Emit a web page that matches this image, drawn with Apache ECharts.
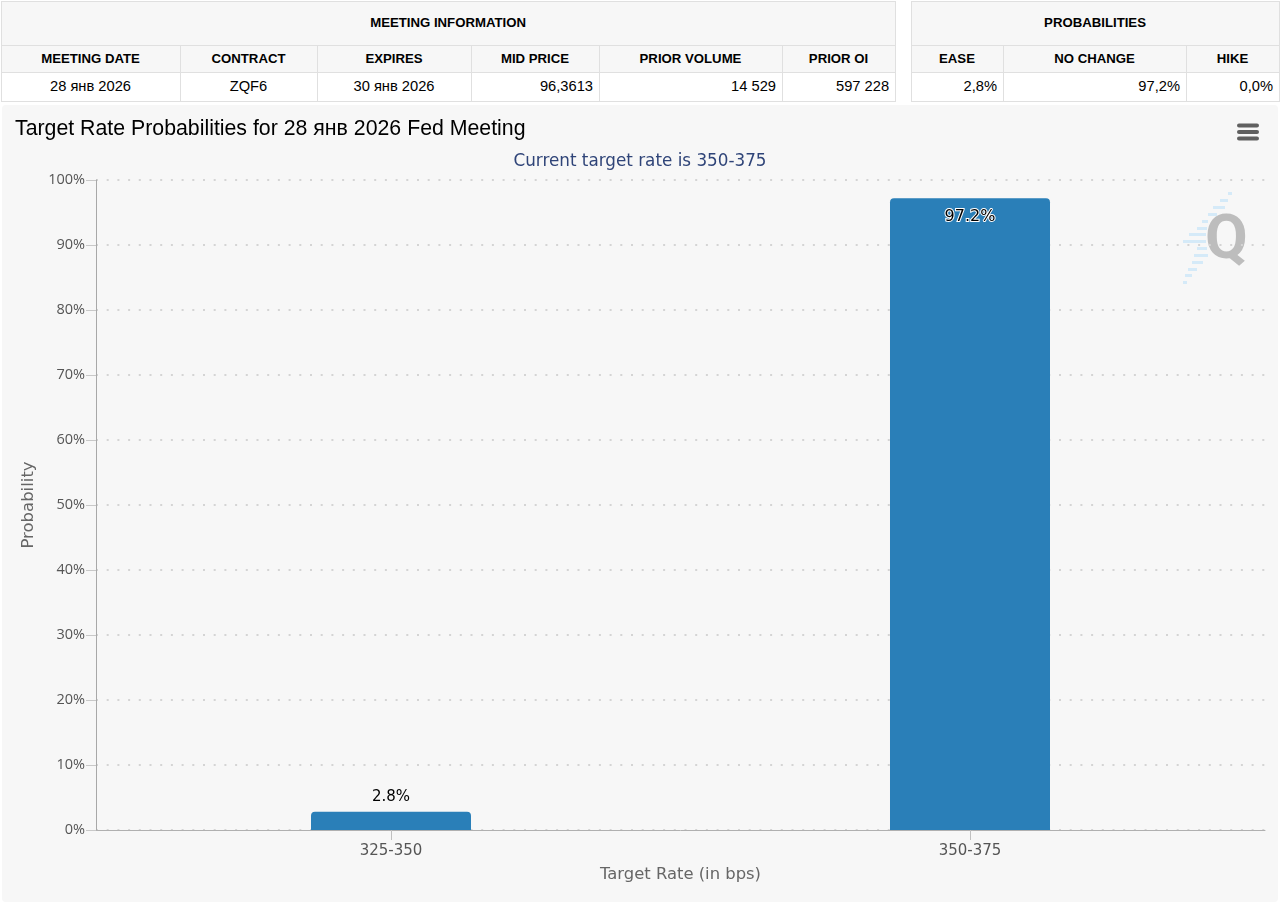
<!DOCTYPE html>
<html>
<head>
<meta charset="utf-8">
<script src="https://cdn.jsdelivr.net/npm/echarts@6/dist/echarts.min.js"></script>
<style>
  html, body { margin: 0; padding: 0; background: #fff; }
  body { position: relative; width: 1280px; height: 911px; overflow: hidden; font-family: "Liberation Sans", Arial, sans-serif; }
  table { position: absolute; top: 1px; border-collapse: collapse; table-layout: fixed; color: #000; }
  td, th { border: 1px solid #e0e0e0; padding: 0 6px 2px 5px; box-sizing: border-box; }
  th { background: #f7f7f7; font-weight: bold; font-size: 13.2px; text-align: center; }
  td { background: #fff; text-align: right; font-size: 14.7px; }
  td.c { text-align: center; }
  tr.r1 { height: 44px; } tr.r2 { height: 27px; } tr.r3 { height: 29px; }
  #chart { position: absolute; left: 2px; top: 105px; width: 1276px; height: 797px; border-radius: 4px; overflow: hidden; }
</style>
</head>
<body>
<table id="meeting" style="left:1px;width:894px"></table>
<table id="probs" style="left:911px;width:368px"></table>
<div id="chart"></div>
<script>
const meetingHead = ["MEETING DATE", "CONTRACT", "EXPIRES", "MID PRICE", "PRIOR VOLUME", "PRIOR OI"];
const meetingRow = ["28 янв 2026", "ZQF6", "30 янв 2026", "96,3613", "14 529", "597 228"];
const meetingCols = [179, 137, 154, 128, 183, 113];
const probHead = ["EASE", "NO CHANGE", "HIKE"];
const probRow = ["2,8%", "97,2%", "0,0%"];
const probCols = [92, 183, 93];

const rates = ["325-350", "350-375"];
const probabilities = [2.8, 97.2];

function fillTable(id, title, head, row, cols, centered) {
    let html = "<colgroup>" + cols.map(w => `<col style="width:${w}px">`).join("") + "</colgroup>";
    html += `<tr class="r1"><th colspan="${cols.length}">${title}</th></tr>`;
    html += '<tr class="r2">' + head.map(h => `<th>${h}</th>`).join("") + "</tr>";
    html += '<tr class="r3">' + row.map((v, i) => `<td class="${i < centered ? "c" : ""}">${v}</td>`).join("") + "</tr>";
    document.getElementById(id).innerHTML = html;
}
fillTable("meeting", "MEETING INFORMATION", meetingHead, meetingRow, meetingCols, 3);
fillTable("probs", "PROBABILITIES", probHead, probRow, probCols, 0);

const labelFont = '"DejaVu Sans", sans-serif';
const chart = echarts.init(document.getElementById("chart"), null, { renderer: "canvas" });

// watermark streaks behind the Q, page coords: x, y, width
const streaks = [
    [1228, 193, 4], [1220, 200, 8], [1213, 207, 12], [1208, 214, 9], [1202, 221, 6],
    [1197, 228, 10], [1189, 234, 17], [1183, 241, 23], [1197, 248, 10], [1194, 255, 14],
    [1192, 262, 11], [1188, 269, 9], [1185, 275, 7], [1183, 282, 4]
].map(s => ({
    type: "rect",
    shape: { x: s[0] - 2, y: s[1] - 106, width: s[2], height: 3 },
    style: { fill: "#d5eaf8" },
    silent: true
}));

const menuBars = [123.5, 130, 136.5].map(y => ({
    type: "rect",
    shape: { x: 1235, y: y - 105, width: 22, height: 4, r: 2 },
    style: { fill: "#606060" }
}));

chart.setOption({
    backgroundColor: "#f7f7f7",
    animation: false,
    title: [
        {
            text: "Target Rate Probabilities for 28 янв 2026 Fed Meeting",
            left: 8,
            top: 9,
            textStyle: { fontFamily: '"Liberation Sans", sans-serif', fontSize: 21.3, fontWeight: "normal", color: "#000" }
        },
        {
            text: "Current target rate is 350-375",
            left: "center",
            top: 43,
            textStyle: { fontFamily: labelFont, fontSize: 16.8, fontWeight: "normal", color: "#2f4478" }
        }
    ],
    graphic: [
        ...streaks,
        {
            type: "text",
            style: { text: "Q", x: 1203, y: 106, fontFamily: "Roboto, sans-serif", fontWeight: "bold", fontSize: 62, fill: "#bdbdbd" },
            silent: true
        },
        ...menuBars
    ],
    grid: { left: 94, right: 13, top: 75, bottom: 72 },
    xAxis: {
        type: "value",
        // the two bars don't sit on even bands of the axis
        min: -0.5095,
        max: 1.5095,
        name: "Target Rate (in bps)",
        nameLocation: "middle",
        nameGap: 37,
        nameTextStyle: { fontFamily: labelFont, fontSize: 16.4, color: "#666" },
        splitLine: { show: false },
        axisLine: { lineStyle: { color: "#b0b0b0", width: 1 } },
        axisTick: { show: true, length: 10, customValues: [0, 1], lineStyle: { color: "#c0c0c0" } },
        axisLabel: {
            customValues: [0, 1],
            formatter: v => rates[v],
            fontFamily: labelFont,
            fontSize: 15,
            color: "#555",
            margin: 14
        }
    },
    yAxis: {
        type: "value",
        min: 0,
        max: 100,
        interval: 10,
        name: "Probability",
        nameLocation: "middle",
        nameGap: 56,
        nameTextStyle: { fontFamily: labelFont, fontSize: 16.5, color: "#666" },
        axisLine: { show: true, onZero: false, lineStyle: { color: "#a8a8a8", width: 1 } },
        axisTick: { show: true, length: 10, lineStyle: { color: "#c8c8c8" } },
        axisLabel: {
            formatter: "{value}%",
            fontFamily: '"Open Sans", sans-serif',
            fontSize: 14.5,
            color: "#555",
            margin: 11
        },
        splitLine: { lineStyle: { color: "#d4d4d4", width: 2, type: [2, 8.7] } }
    },
    series: [
        {
            type: "bar",
            barWidth: 160,
            itemStyle: { color: "#2a7fb8", borderRadius: [4, 4, 0, 0] },
            data: probabilities.map((p, i) => ({
                value: [i, p],
                label: p > 50
                    ? { show: true, position: "insideTop", distance: 11, fontSize: 16, color: "#000", textBorderColor: "#fff", textBorderWidth: 2 }
                    : { show: true, position: "top", distance: 7, color: "#000" }
            })),
            label: {
                fontFamily: labelFont,
                fontSize: 15,
                formatter: p => p.value[1].toFixed(1) + "%"
            }
        }
    ]
});
</script>
</body>
</html>
